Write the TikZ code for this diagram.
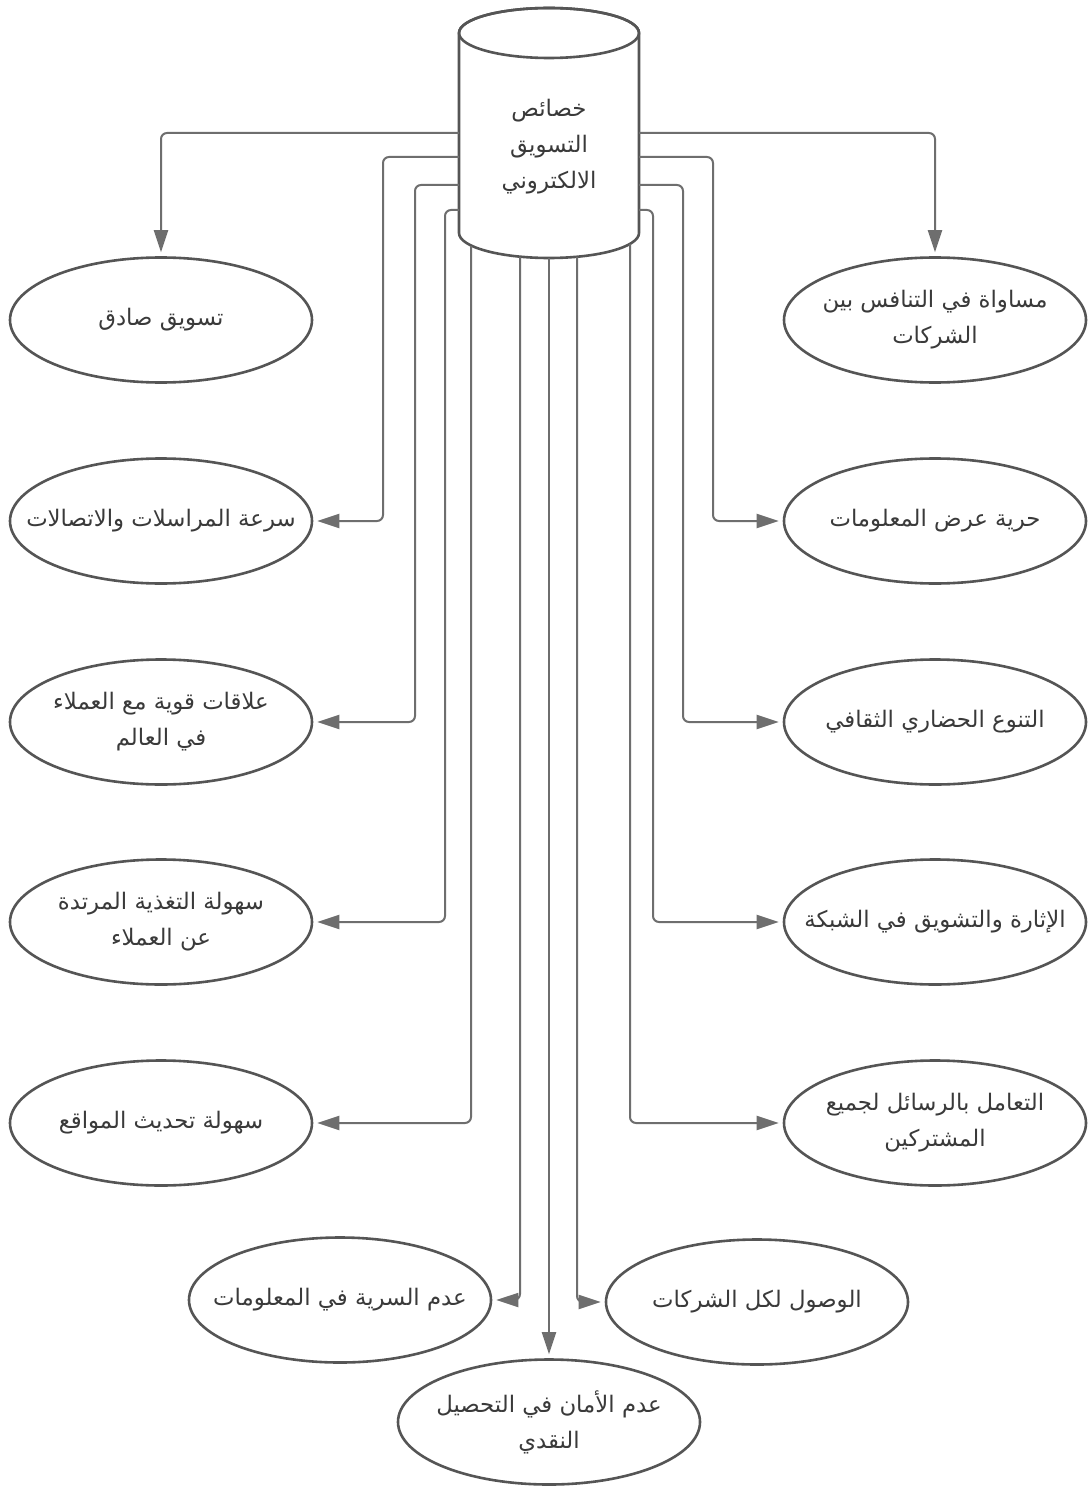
\documentclass[tikz,border=0pt]{standalone}
\usepackage{fontspec}
\usepackage{tikz}
\usetikzlibrary{positioning}
\usetikzlibrary{calc}
\usetikzlibrary{arrows.meta}
\usetikzlibrary{shapes.geometric}
\TeXXeTstate=1
\newfontfamily\arabicfont[Script=Arabic]{DejaVu Sans}
\definecolor{edgegray}{HTML}{6E6E6E}
\definecolor{rimgray}{HTML}{555555}
\definecolor{inkgray}{HTML}{3A3A3A}

\begin{document}
\begin{tikzpicture}[x=0.5pt,y=-0.5pt,
    trait/.style={ellipse,draw=rimgray,line width=1.3pt,fill=white,minimum width=151pt,minimum height=62.5pt,inner sep=0pt},
    lbl/.style={text=inkgray,font=\arabicfont\fontsize{11.4}{18}\selectfont,align=center},
    link/.style={draw=edgegray,line width=1pt,rounded corners=3pt,-{Triangle[length=11pt,width=7pt]},shorten >=2pt}]

\fill[white] (0,0) rectangle (1088,1492);
\useasboundingbox (0,0) rectangle (1088,1492);

% central cylinder
\draw[rimgray,line width=1.3pt,fill=white] (459,33) -- (459,233) arc[start angle=180,end angle=0,x radius=90,y radius=25] -- (639,33) arc[start angle=0,end angle=-180,x radius=90,y radius=25] -- cycle;
\draw[rimgray,line width=1.3pt] (549,33) ellipse[x radius=90,y radius=25];
\node[lbl] (core) at (549,147) {\beginR خصائص\endR\\\beginR التسويق\endR\\\beginR الالكتروني\endR};

\coordinate (pL1) at (459,133);
\coordinate (pL2) at (459,157);
\coordinate (pL3) at (459,185);
\coordinate (pL4) at (459,210);
\coordinate (pR1) at (639,133);
\coordinate (pR2) at (639,157);
\coordinate (pR3) at (639,185);
\coordinate (pR4) at (639,210);
\coordinate (pB1) at (471,246);
\coordinate (pB2) at (520,257);
\coordinate (pB3) at (549,258);
\coordinate (pB4) at (577,257);
\coordinate (pB5) at (630,244);

% left column
\node[trait,label={[lbl]center:{\beginR تسويق صادق\endR}}] (sadiq) at (161,320) {};
\node[trait,label={[lbl]center:{\beginR سرعة المراسلات والاتصالات\endR}}] (sura) at (161,521) {};
\node[trait,label={[lbl]center:{\beginR علاقات قوية مع العملاء\endR\\\beginR في العالم\endR}}] (alaqat) at (161,722) {};
\node[trait,label={[lbl]center:{\beginR سهولة التغذية المرتدة\endR\\\beginR عن العملاء\endR}}] (taghdhiya) at (161,922) {};
\node[trait,label={[lbl]center:{\beginR سهولة تحديث المواقع\endR}}] (tahdith) at (161,1123) {};

% right column
\node[trait,label={[lbl]center:{\beginR مساواة في التنافس بين\endR\\\beginR الشركات\endR}}] (musawat) at (935,320) {};
\node[trait,label={[lbl]center:{\beginR حرية عرض المعلومات\endR}}] (hurriya) at (935,521) {};
\node[trait,label={[lbl]center:{\beginR التنوع الحضاري الثقافي\endR}}] (tanawwu) at (935,722) {};
\node[trait,label={[lbl]center:{\beginR الإثارة والتشويق في الشبكة\endR}}] (ithara) at (935,922) {};
\node[trait,label={[lbl]center:{\beginR التعامل بالرسائل لجميع\endR\\\beginR المشتركين\endR}}] (taamul) at (935,1123) {};

% bottom
\node[trait,label={[lbl]center:{\beginR عدم السرية في المعلومات\endR}}] (sirriya) at (340,1300) {};
\node[trait,label={[lbl]center:{\beginR الوصول لكل الشركات\endR}}] (wusul) at (757,1302) {};
\node[trait,label={[lbl]center:{\beginR عدم الأمان في التحصيل\endR\\\beginR النقدي\endR}}] (aman) at (549,1422) {};

\draw[link] (pL1) -| (sadiq.north);
\draw[link] (pL2) -- ++(-76,0) |- (sura.east);
\draw[link] (pL3) -- ++(-44,0) |- (alaqat.east);
\draw[link] (pL4) -- ++(-14,0) |- (taghdhiya.east);
\draw[link] (pB1) |- (tahdith.east);
\draw[link] (pB2) |- (sirriya.east);
\draw[link] (pB3) -- (aman.north);
\draw[link] (pB4) |- (wusul.west);
\draw[link] (pB5) |- (taamul.west);
\draw[link] (pR4) -- ++(14,0) |- (ithara.west);
\draw[link] (pR3) -- ++(44,0) |- (tanawwu.west);
\draw[link] (pR2) -- ++(74,0) |- (hurriya.west);
\draw[link] (pR1) -| (musawat.north);

\end{tikzpicture}
\end{document}
